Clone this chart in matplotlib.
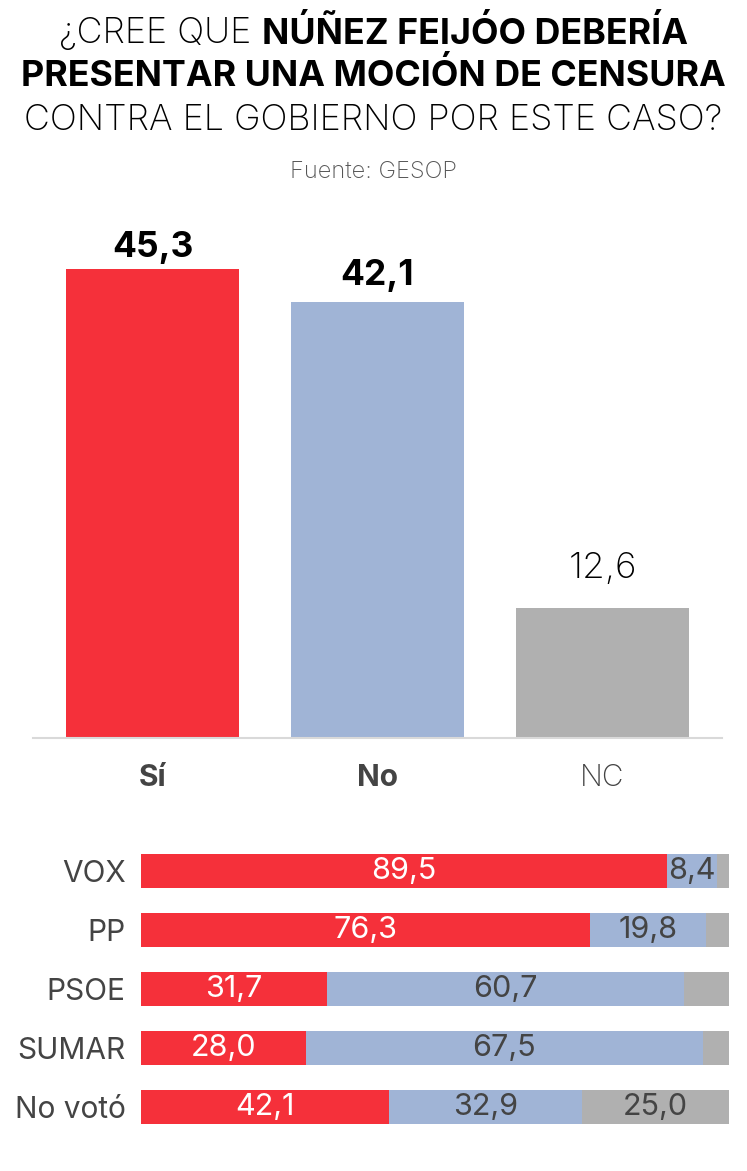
import matplotlib
matplotlib.use("Agg")
import matplotlib.pyplot as plt
import numpy as np

plt.rcParams['font.family'] = ['Inter', 'DejaVu Sans']

# top chart data
answers = ["Sí", "No", "NC"]
answer_vals = [45.3, 42.1, 12.6]

# breakdown by vote
groups = ["VOX", "PP", "PSOE", "SUMAR", "No votó"]
si_vals = [89.5, 76.3, 31.7, 28.0, 42.1]
no_vals = [8.4, 19.8, 60.7, 67.5, 32.9]
nc_vals = [2.1, 3.9, 7.6, 4.5, 25.0]

RED = "#f5303a"
BLUE = "#a0b4d6"
GRAY = "#b0b0b0"
colors = [RED, BLUE, GRAY]

W, H = 747, 1171
fig = plt.figure(figsize=(W / 100, H / 100), dpi=100)

# ---- title (mixed weights) ----
fig.canvas.draw()
r = fig.canvas.get_renderer()
tsize = 25.8


def text_w(s, weight):
    t = fig.text(0, 0, s, fontsize=tsize, fontweight=weight)
    w = t.get_window_extent(renderer=r).width
    t.remove()
    return w


sp = text_w("a a", "light") - text_w("aa", "light")
w1 = text_w("¿CREE QUE", "light")
w2 = text_w("NÚÑEZ FEIJÓO DEBERÍA", "bold")
x0 = (W - (w1 + sp + w2)) / 2
y1 = 1 - 33 / H
fig.text(x0 / W, y1, "¿CREE QUE", fontsize=tsize, fontweight="light",
         va="center", ha="left", color="black")
fig.text((x0 + w1 + sp) / W, y1, "NÚÑEZ FEIJÓO DEBERÍA", fontsize=tsize,
         fontweight="bold", va="center", ha="left", color="black")
fig.text(0.5, 1 - 76 / H, "PRESENTAR UNA MOCIÓN DE CENSURA", fontsize=tsize,
         fontweight="bold", ha="center", va="center", color="black")
fig.text(0.5, 1 - 120 / H, "CONTRA EL GOBIERNO POR ESTE CASO?", fontsize=tsize,
         fontweight="light", ha="center", va="center", color="black")
fig.text(0.5, 1 - 172 / H, "Fuente: GESOP", fontsize=17, ha="center",
         va="center", color="#555555", fontweight="light")

# ---- top bar chart ----
ax = fig.add_axes([33 / W, (H - 738) / H, 689 / W, 518 / H])
x = np.arange(len(answers))
ax.bar(x, answer_vals, width=0.77, color=colors)
ax.set_xlim(-0.531, 2.531)
ax.set_ylim(0, 50.05)
for s in ["top", "right", "left"]:
    ax.spines[s].set_visible(False)
ax.spines["bottom"].set_color("#d9d9d9")
ax.spines["bottom"].set_linewidth(1.5)
ax.set_yticks([])
ax.set_xticks(x)
ax.set_xticklabels(answers, fontsize=21.5, color="#444444")
ax.tick_params(axis="x", length=0, pad=18.5)
for i, lab in enumerate(ax.get_xticklabels()):
    lab.set_fontweight("bold" if i < 2 else "light")
offsets = [4, 7.5, 16.5]
for i, v in enumerate(answer_vals):
    ax.annotate(f"{v:.1f}".replace(".", ","), (x[i], v), xytext=(0, offsets[i]),
                textcoords="offset points", ha="center", va="bottom",
                fontsize=25.5 if i < 2 else 26.5,
                fontweight="bold" if i < 2 else "light", color="black")

# ---- stacked bars ----
bx = fig.add_axes([141 / W, 34.5 / H, 588 / W, 295 / H])
y = np.arange(len(groups))
left = np.zeros(len(groups))
for vals, c in zip([si_vals, no_vals, nc_vals], colors):
    vals = np.array(vals)
    bx.barh(y, vals, left=left, height=0.56, color=c)
    for i, v in enumerate(vals):
        if v >= 8:
            bx.text(left[i] + v / 2, y[i], f"{v:.1f}".replace(".", ","),
                    ha="center", va="center", fontsize=22,
                    color="white" if c == RED else "#444444")
    left += vals
bx.set_xlim(0, 100)
bx.set_ylim(len(groups) - 0.5, -0.5)
for s in bx.spines.values():
    s.set_visible(False)
bx.set_xticks([])
bx.set_yticks(y)
bx.set_yticklabels(groups, fontsize=21.5, color="#444444")
bx.tick_params(axis="y", length=0, pad=11)

fig.savefig("out.png", dpi=100)
